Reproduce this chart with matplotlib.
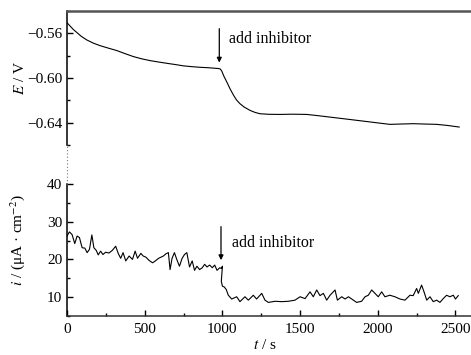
import numpy as np
import matplotlib
matplotlib.use("Agg")
import matplotlib.pyplot as plt
from matplotlib.lines import Line2D
from matplotlib.ticker import MultipleLocator

plt.rcParams['font.family'] = ['Liberation Serif', 'DejaVu Serif']
plt.rcParams['mathtext.fontset'] = 'stix'
plt.rcParams['font.size'] = 11

# potential vs time (upper panel)
t_E = [0, 20, 40, 62, 90, 127, 170, 212, 260, 320, 370, 427, 480, 534, 590,
       641, 700, 748, 800, 856, 910, 974, 985, 995, 1010, 1030, 1049, 1070,
       1090, 1113, 1140, 1178, 1210, 1242, 1300, 1371, 1450, 1542, 1620, 1692,
       1800, 1907, 2000, 2078, 2150, 2228, 2300, 2379, 2450, 2524]
E = [-0.5505, -0.5535, -0.5565, -0.5591, -0.5625, -0.5659, -0.5688, -0.5710,
     -0.5730, -0.5754, -0.5780, -0.5808, -0.5828, -0.5844, -0.5857, -0.5868,
     -0.5880, -0.5891, -0.5898, -0.5904, -0.5908, -0.5915, -0.5918, -0.5935,
     -0.5985, -0.6040, -0.6096, -0.6150, -0.6195, -0.6230, -0.6260, -0.6290,
     -0.6308, -0.6320, -0.6325, -0.6326, -0.6324, -0.6326, -0.6338, -0.6350,
     -0.6368, -0.6386, -0.6402, -0.6415, -0.6412, -0.6409, -0.6412, -0.6415,
     -0.6425, -0.6439]

# current density vs time (lower panel)
X_lo = [205, 212, 220, 228, 235, 242, 250, 258, 265, 272, 279, 285, 292, 298,
        305, 312, 320, 330, 340, 350, 358, 365, 372, 380, 390, 400, 408, 415,
        425, 432, 440, 450, 460, 468, 478, 485, 492, 500, 507, 512, 518, 525,
        532, 540, 548, 555, 562, 570, 578, 585, 592, 600, 608, 615, 622, 630,
        638, 645, 652, 660, 665, 668]
i_lo = [26.2, 27.3, 26.6, 24.2, 26.2, 25.8, 23.1, 23.0, 21.8, 22.7, 26.5, 23.1,
        22.4, 21.2, 22.2, 21.3, 21.9, 21.7, 22.4, 23.5, 21.5, 20.3, 21.8, 19.6,
        20.9, 20.0, 22.2, 20.3, 21.6, 20.9, 20.6, 19.7, 19.1, 19.6, 20.3, 20.6,
        20.9, 21.5, 21.8, 17.3, 20.3, 21.8, 20.0, 18.2, 20.3, 21.3, 21.8, 18.0,
        19.6, 17.1, 18.2, 17.3, 17.8, 18.7, 18.0, 18.5, 17.8, 18.5, 17.1, 17.8,
        17.6, 18.2]
t_hi = [993, 1000, 1012, 1025, 1038, 1060, 1092, 1113, 1145, 1167, 1199, 1220,
        1253, 1274, 1296, 1339, 1382, 1425, 1467, 1500, 1532, 1564, 1585, 1607,
        1628, 1650, 1671, 1693, 1725, 1740, 1768, 1790, 1811, 1843, 1864, 1896,
        1918, 1939, 1961, 1982, 2003, 2025, 2046, 2078, 2110, 2143, 2175, 2207,
        2228, 2250, 2261, 2282, 2296, 2315, 2336, 2357, 2379, 2400, 2421, 2443,
        2464, 2486, 2500, 2518]
i_hi = [14.2, 12.9, 12.7, 12.0, 10.5, 9.5, 10.1, 8.8, 10.1, 9.2, 10.5, 9.5,
        11.0, 9.2, 8.6, 8.9, 8.8, 8.9, 9.2, 10.1, 9.6, 11.4, 10.1, 11.9,
        10.4, 11.0, 9.2, 10.5, 11.9, 9.2, 10.1, 9.5, 10.1, 9.2, 8.6, 8.9,
        10.1, 10.5, 11.9, 11.0, 10.1, 11.4, 10.1, 10.5, 10.1, 9.5, 9.2, 10.5,
        10.4, 12.3, 11.0, 13.2, 11.6, 9.2, 10.1, 8.8, 9.2, 8.6, 9.6, 10.5,
        10.1, 10.5, 9.5, 10.4]

t_i = [(x - 205) * 2.16 for x in X_lo] + t_hi
i_cur = i_lo + i_hi

fig = plt.figure(figsize=(4.71, 3.55), dpi=100)
ax1 = fig.add_axes([0.1423, 0.5915, 0.8577, 0.3775])
ax2 = fig.add_axes([0.1423, 0.1099, 0.8577, 0.3718])

ax1.plot(t_E, E, color="black", lw=0.8)
ax2.plot(t_i, i_cur, color="black", lw=0.8)

for ax in (ax1, ax2):
    ax.set_xlim(0, 2600)
    ax.spines['right'].set_visible(False)
    ax.tick_params(which='both', direction='in', right=False, top=False)
    ax.tick_params(which='major', length=4, width=1)
    ax.tick_params(which='minor', length=2.5, width=1)

ax1.set_ylim(-0.66, -0.54)
ax1.spines['bottom'].set_visible(False)
ax1.spines['top'].set_color('#555555')
ax1.spines['top'].set_linewidth(1.8)
ax1.spines['left'].set_linewidth(1.1)
ax1.yaxis.set_major_locator(MultipleLocator(0.04))
ax1.yaxis.set_minor_locator(MultipleLocator(0.02))
ax1.set_yticks([-0.64, -0.60, -0.56])
ax1.tick_params(axis='x', which='both', bottom=False, labelbottom=False)
ax1.set_ylabel("$E$ / V")
ax1.yaxis.set_label_coords(-0.10, 0.5)

ax2.set_ylim(5, 40)
ax2.spines['top'].set_visible(False)
ax2.spines['left'].set_linewidth(1.1)
ax2.spines['bottom'].set_linewidth(1.1)
ax2.spines['bottom'].set_color('#333333')
ax2.yaxis.set_major_locator(MultipleLocator(10))
ax2.yaxis.set_minor_locator(MultipleLocator(5))
ax2.set_yticks([10, 20, 30, 40])
ax2.xaxis.set_major_locator(MultipleLocator(500))
ax2.xaxis.set_minor_locator(MultipleLocator(250))
ax2.set_xticks([0, 500, 1000, 1500, 2000, 2500])
ax2.tick_params(axis='x', pad=5)
ax2.set_ylabel("$i$ / (μA · cm$^{-2}$)")
ax2.yaxis.set_label_coords(-0.10, 0.576)
ax2.set_xlabel("$t$ / s", labelpad=2)
ax2.xaxis.set_label_coords(0.49, -0.17)

# arrows and notes
ax1.annotate("", xy=(980, -0.5862), xytext=(980, -0.5558),
             arrowprops=dict(arrowstyle="-|>", color="black", lw=0.9,
                             mutation_scale=7, shrinkA=0, shrinkB=0))
ax1.text(1040, -0.5647, "add inhibitor", va='center', ha='left', fontsize=11.5)
ax2.annotate("", xy=(991, 19.8), xytext=(991, 28.7),
             arrowprops=dict(arrowstyle="-|>", color="black", lw=0.9,
                             mutation_scale=7, shrinkA=0, shrinkB=0))
ax2.text(1062, 24.4, "add inhibitor", va='center', ha='left', fontsize=11.5)

# dotted break between the two panels
fig.add_artist(Line2D([0.1423, 0.1423], [0.4817, 0.5915], transform=fig.transFigure,
                      color='#777777', lw=0.8, linestyle=(0, (1, 2))))

fig.savefig("out.png", dpi=100)
